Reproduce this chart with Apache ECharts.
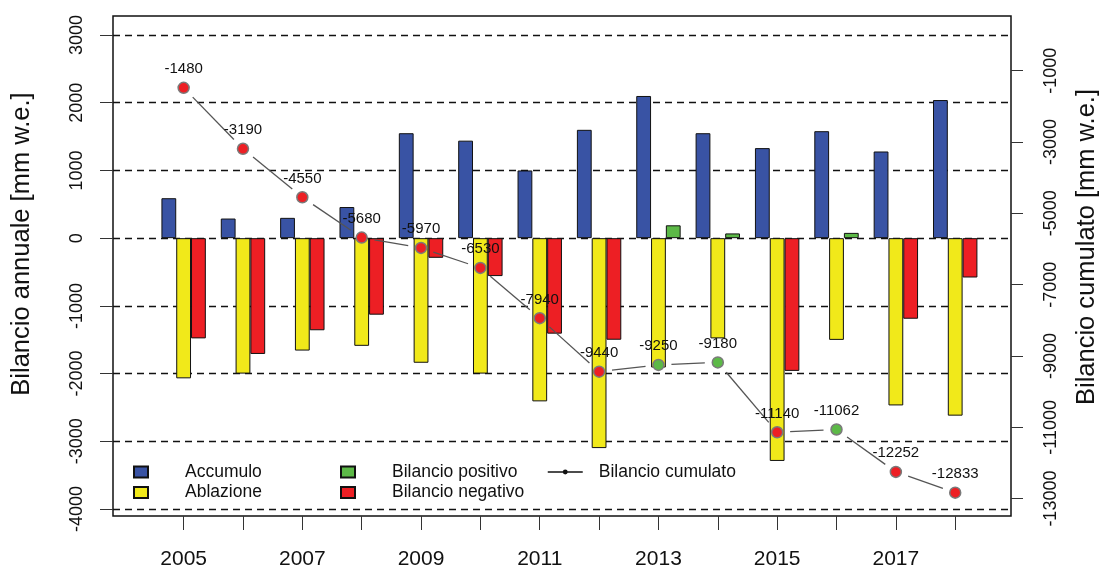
<!DOCTYPE html>
<html>
<head>
<meta charset="utf-8">
<script src="https://cdn.jsdelivr.net/npm/echarts@6/dist/echarts.min.js"></script>
<style>
  html, body { margin: 0; padding: 0; background: #ffffff; }
  #chart { width: 1101px; height: 568px; }
</style>
</head>
<body>
<div id="chart"></div>
<script>
// Bilancio di massa annuale e cumulato (mm w.e.)
const anni = [2005, 2006, 2007, 2008, 2009, 2010, 2011, 2012, 2013, 2014, 2015, 2016, 2017, 2018];
const accumulo = [590, 290, 300, 460, 1550, 1440, 1000, 1600, 2100, 1550, 1330, 1580, 1280, 2040];
const ablazione = [-2070, -2000, -1660, -1590, -1840, -2000, -2410, -3100, -1910, -1480, -3290, -1502, -2470, -2621];
const bilancioPositivo = [null, null, null, null, null, null, null, null, 190, 70, null, 78, null, null];
const bilancioNegativo = [-1480, -1710, -1360, -1130, -290, -560, -1410, -1500, null, null, -1960, null, -1190, -581];
const bilancioCumulato = [-1480, -3190, -4550, -5680, -5970, -6530, -7940, -9440, -9250, -9180, -11140, -11062, -12252, -12833];

const tickAnnuale = [-4000, -3000, -2000, -1000, 0, 1000, 2000, 3000];
const tickCumulato = [-13000, -11000, -9000, -7000, -5000, -3000, -1000];
const tickAnni = [2005, 2006, 2007, 2008, 2009, 2010, 2011, 2012, 2013, 2014, 2015, 2016, 2017, 2018];
const etichetteAnni = [2005, 2007, 2009, 2011, 2013, 2015, 2017];

const BLU = '#3953a4', GIALLO = '#f1e91a', VERDE = '#5cb947', ROSSO = '#ed1f24';
const FONT = '"Liberation Sans", Arial, Helvetica, sans-serif';

const coppie = (vals) => anni.map((a, i) => [a, vals[i]]);
const segmenti = anni.slice(0, -1).map((a, i) => [a, bilancioCumulato[i], anni[i + 1], bilancioCumulato[i + 1]]);

const barStyle = (c) => ({ color: c, borderColor: '#111', borderWidth: 1 });

const chart = echarts.init(document.getElementById('chart'), null, { renderer: 'canvas' });

const legendText = { fontFamily: FONT, fontSize: 17.5, color: '#111', lineHeight: 18 };

chart.setOption({
  backgroundColor: '#ffffff',
  animation: false,
  textStyle: { fontFamily: FONT },
  grid: {
    left: 113, top: 16, width: 898, height: 500,
    show: true, borderColor: '#111', borderWidth: 1.5, backgroundColor: 'transparent',
    containLabel: false, outerBoundsMode: 'none'
  },
  legend: [
    {
      data: ['Accumulo', 'Ablazione'],
      orient: 'vertical', left: 133, top: 463, padding: 0,
      itemWidth: 14, itemHeight: 11, itemGap: 2.5, selectedMode: false, icon: 'rect',
      textStyle: Object.assign({ padding: [0, 0, 0, 32] }, legendText)
    },
    {
      data: ['Bilancio positivo', 'Bilancio negativo'],
      orient: 'vertical', left: 340, top: 463, padding: 0,
      itemWidth: 14, itemHeight: 11, itemGap: 2.5, selectedMode: false, icon: 'rect',
      textStyle: Object.assign({ padding: [0, 0, 0, 32] }, legendText)
    },
    {
      data: [{
        name: 'Bilancio cumulato',
        itemStyle: { color: '#111', borderWidth: 0 },
        lineStyle: { color: '#111', width: 1.5, opacity: 1 }
      }],
      orient: 'vertical', left: 547, top: 463, padding: 0,
      itemWidth: 35, itemHeight: 6, selectedMode: false,
      textStyle: Object.assign({ padding: [0, 0, 0, 11] }, legendText)
    }
  ],
  xAxis: {
    type: 'value', min: 2003.81, max: 2018.94,
    axisLine: { show: false, onZero: false },
    axisTick: { show: true, length: 14, customValues: tickAnni, lineStyle: { color: '#333', width: 1 } },
    axisLabel: {
      customValues: etichetteAnni, margin: 33, formatter: (v) => String(v),
      fontFamily: FONT, fontSize: 21, color: '#111'
    },
    splitLine: { show: false }
  },
  yAxis: [
    {
      type: 'value', min: -4103, max: 3281, position: 'left',
      name: 'Bilancio annuale [mm w.e.]', nameLocation: 'middle', nameGap: 78,
      nameTextStyle: { fontFamily: FONT, fontSize: 25.5, color: '#111', padding: [0, 0, 0, 44] },
      axisLine: { show: false },
      axisTick: { show: true, length: 13, customValues: tickAnnuale, lineStyle: { color: '#333', width: 1 } },
      axisLabel: {
        customValues: tickAnnuale, rotate: 90, margin: 27, formatter: (v) => String(v),
        fontFamily: FONT, fontSize: 18, color: '#111'
      },
      splitLine: { show: true, lineStyle: { color: '#111', width: 1.4, type: [7, 5] } }
    },
    {
      type: 'value', min: -13488, max: 534, position: 'right',
      name: 'Bilancio cumulato [mm w.e.]', nameLocation: 'middle', nameGap: 63,
      nameTextStyle: { fontFamily: FONT, fontSize: 25.5, color: '#111', padding: [0, 0, 0, 38] },
      axisLine: { show: false },
      axisTick: { show: true, length: 12, customValues: tickCumulato, lineStyle: { color: '#333', width: 1 } },
      axisLabel: {
        customValues: tickCumulato, rotate: 90, margin: 31, formatter: (v) => String(v),
        fontFamily: FONT, fontSize: 18, color: '#111'
      },
      splitLine: { show: false }
    }
  ],
  series: [
    {
      name: 'Accumulo', type: 'bar', data: coppie(accumulo),
      barWidth: 14.8, barGap: '0%', itemStyle: barStyle(BLU), z: 2
    },
    {
      name: 'Ablazione', type: 'bar', data: coppie(ablazione),
      barWidth: 14.8, barGap: '0%', itemStyle: barStyle(GIALLO), z: 2
    },
    {
      name: 'Bilancio positivo', type: 'bar', stack: 'bilancio', data: coppie(bilancioPositivo),
      barWidth: 14.8, barGap: '0%', itemStyle: barStyle(VERDE), z: 2
    },
    {
      name: 'Bilancio negativo', type: 'bar', stack: 'bilancio', data: coppie(bilancioNegativo),
      barWidth: 14.8, barGap: '0%', itemStyle: barStyle(ROSSO), z: 2
    },
    {
      // tratti di collegamento interrotti attorno ai punti
      type: 'custom', yAxisIndex: 1, silent: true, z: 3,
      data: segmenti,
      encode: { x: [0, 2], y: [1, 3] },
      renderItem: (params, api) => {
        const p0 = api.coord([api.value(0), api.value(1)]);
        const p1 = api.coord([api.value(2), api.value(3)]);
        const dx = p1[0] - p0[0], dy = p1[1] - p0[1];
        const len = Math.hypot(dx, dy);
        const gap = 13;
        if (len <= 2 * gap) return null;
        const ux = dx / len, uy = dy / len;
        return {
          type: 'line',
          shape: { x1: p0[0] + ux * gap, y1: p0[1] + uy * gap, x2: p1[0] - ux * gap, y2: p1[1] - uy * gap },
          style: { stroke: '#555', lineWidth: 1.3 }
        };
      }
    },
    {
      name: 'Bilancio cumulato', type: 'line', yAxisIndex: 1, z: 4,
      data: coppie(bilancioCumulato),
      lineStyle: { opacity: 0 },
      symbol: 'circle', symbolSize: 11, showAllSymbol: true,
      itemStyle: {
        color: (p) => (bilancioPositivo[p.dataIndex] !== null ? VERDE : ROSSO),
        borderColor: '#7a7a7a', borderWidth: 1.5
      },
      label: {
        show: true, position: 'top', distance: 5,
        formatter: (p) => String(p.value[1]),
        fontFamily: FONT, fontSize: 15, color: '#111'
      }
    }
  ]
});
</script>
</body>
</html>
